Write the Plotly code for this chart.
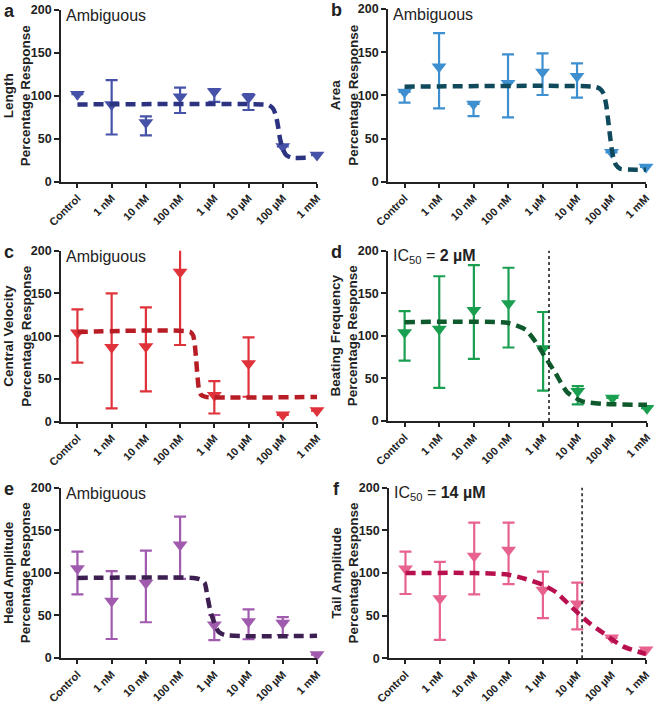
import plotly.graph_objects as go

W, H = 654, 706

categories = ["Control", "1 nM", "10 nM", "100 nM", "1 µM", "10 µM", "100 µM", "1 mM"]
y_ticks = [0, 50, 100, 150, 200]

# ---- panel a: Length ----
length_mean = [102, 90, 69, 99, 105, 98, 41, 31]
length_hi = [102, 118.4, 76, 109.5, 108, 102, 41, 31]
length_lo = [102, 55, 54, 80, 93, 83.5, 41, 31]
length_fit_x = [0, 5.45, 5.6, 5.72, 5.8, 5.86, 5.92, 6.0, 6.1, 6.25, 6.85]
length_fit_y = [90, 90, 89, 85, 77, 65, 50, 38, 31, 28, 28]

# ---- panel b: Area ----
area_mean = [104, 133, 90, 114, 127, 122, 34, 17]
area_hi = [104, 172, 90, 147.5, 148.6, 137, 34, 17]
area_lo = [91.5, 85, 76, 74.5, 100.4, 97.3, 34, 17]
area_fit_x = [0, 5.5, 5.65, 5.77, 5.85, 5.9, 5.96, 6.03, 6.12, 6.25, 7.0]
area_fit_y = [110, 110, 108, 102, 88, 72, 52, 32, 20, 15, 14]

# ---- panel c: Central Velocity ----
velocity_mean = [104, 87, 88, 175, 31, 68, 8, 13]
velocity_hi = [131.4, 150, 133.7, 257, 47.4, 98.6, 8, 13]
velocity_lo = [69, 15.6, 35.5, 89.7, 9.6, 29.2, 8, 13]
velocity_fit_x = [0, 3.3, 3.38, 3.43, 3.47, 3.51, 3.55, 3.62, 3.75, 7.0]
velocity_fit_y = [105, 105, 101, 90, 72, 52, 38, 31, 29, 29]

# ---- panel d: Beating Frequency ----
beat_mean = [104, 108, 130, 138, 85, 35, 27, 15]
beat_hi = [129, 170, 183, 180, 128, 41, 27, 15]
beat_lo = [71, 39, 73, 86.3, 35.6, 19.6, 27, 15]
beat_fit_x = [0, 3.0, 3.5, 3.8, 4.06, 4.36, 4.69, 5.13, 5.8, 7.0]
beat_fit_y = [116, 115, 107, 92, 75, 56, 34, 23, 20, 19]
beat_ic50_pos = 4.17

# ---- panel e: Head Amplitude ----
head_mean = [105, 67, 88, 133, 39, 43, 41, 4]
head_hi = [125, 102, 126, 166, 50.5, 57, 48, 4]
head_lo = [74.8, 22.3, 42, 93, 21, 22, 27, 4]
head_fit_x = [0, 3.4, 3.6, 3.72, 3.8, 3.87, 3.94, 4.02, 4.12, 4.3, 7.0]
head_fit_y = [94, 94, 92, 88, 72, 58, 48, 39, 31, 27, 26]

# ---- panel f: Tail Amplitude ----
tail_mean = [105, 70, 120, 127, 80, 64, 24, 10]
tail_hi = [125, 113, 159, 159, 101.5, 88.7, 24, 10]
tail_lo = [75.4, 21.5, 75, 87, 47, 34, 24, 10]
tail_fit_x = [0, 2, 3, 3.5, 4.0, 4.4, 4.86, 5.36, 5.74, 6.33, 7.0]
tail_fit_y = [100, 100, 98, 93, 86, 77, 59, 41, 30, 14, 5]
tail_ic50_pos = 5.14

panels = [
    dict(letter="a", name="Length", mean=length_mean, hi=length_hi, lo=length_lo,
         fx=length_fit_x, fy=length_fit_y, mc="#4652A8", lc="#2C3380",
         label="Ambiguous", ic50=None, dom=(61, 317, 10, 181.7)),
    dict(letter="b", name="Area", mean=area_mean, hi=area_hi, lo=area_lo,
         fx=area_fit_x, fy=area_fit_y, mc="#3D8FD0", lc="#0E4A5C",
         label="Ambiguous", ic50=None, dom=(388, 646, 9, 181.7)),
    dict(letter="c", name="Central Velocity", mean=velocity_mean, hi=velocity_hi, lo=velocity_lo,
         fx=velocity_fit_x, fy=velocity_fit_y, mc="#E0323A", lc="#B81C25",
         label="Ambiguous", ic50=None, dom=(61, 317, 250.7, 421.7)),
    dict(letter="d", name="Beating Frequency", mean=beat_mean, hi=beat_hi, lo=beat_lo,
         fx=beat_fit_x, fy=beat_fit_y, mc="#1A9E50", lc="#0E5A2C",
         label="IC<sub>50</sub> = <b>2 µM</b>", ic50=beat_ic50_pos, dom=(388, 647, 250.7, 421)),
    dict(letter="e", name="Head Amplitude", mean=head_mean, hi=head_hi, lo=head_lo,
         fx=head_fit_x, fy=head_fit_y, mc="#A05BAE", lc="#3D1F52",
         label="Ambiguous", ic50=None, dom=(61, 317, 487.7, 658)),
    dict(letter="f", name="Tail Amplitude", mean=tail_mean, hi=tail_hi, lo=tail_lo,
         fx=tail_fit_x, fy=tail_fit_y, mc="#E8628F", lc="#B8104F",
         label="IC<sub>50</sub> = <b>14 µM</b>", ic50=tail_ic50_pos, dom=(389, 646, 487.7, 658.3)),
]

FONT = "Liberation Sans, Arial, Helvetica, sans-serif"
fig = go.Figure()
layout = dict(width=W, height=H, margin=dict(l=0, r=0, t=0, b=0, autoexpand=False),
              paper_bgcolor="white", plot_bgcolor="white", showlegend=False,
              font=dict(family=FONT, color="#222"))
annotations = []
shapes = []
xs = list(range(len(categories)))

for i, p in enumerate(panels, start=1):
    sfx = "" if i == 1 else str(i)
    xa, ya = "x" + sfx, "y" + sfx
    l, r, t, b = p["dom"]
    plus = [(h - m) if h > m else None for h, m in zip(p["hi"], p["mean"])]
    minus = [(m - lo) if m > lo else None for lo, m in zip(p["lo"], p["mean"])]
    fig.add_trace(go.Scatter(
        x=xs, y=p["mean"], mode="markers", xaxis=xa, yaxis=ya,
        marker=dict(size=1, color="rgba(0,0,0,0)"), cliponaxis=True, hoverinfo="skip",
        error_y=dict(type="data", symmetric=False, array=plus, arrayminus=minus,
                     color=p["mc"], thickness=2.2, width=6)))
    fig.add_trace(go.Scatter(
        x=xs, y=p["mean"], mode="markers", xaxis=xa, yaxis=ya, cliponaxis=False,
        marker=dict(symbol="triangle-down", size=13, color=p["mc"], line=dict(width=0))))
    fig.add_trace(go.Scatter(
        x=p["fx"], y=p["fy"], mode="lines", xaxis=xa, yaxis=ya,
        line=dict(color=p["lc"], width=4.5, dash="10px,6px", shape="spline", smoothing=0.6)))

    layout["xaxis" + sfx] = dict(
        domain=[l / W, r / W], anchor=ya, range=[-0.48, 7], tickvals=xs, ticktext=categories,
        tickangle=-45, showline=True, linecolor="#222", linewidth=1.6, ticks="outside",
        ticklen=4, tickwidth=1.5, tickcolor="#222", showgrid=False, zeroline=False,
        automargin=False,
        tickfont=dict(size=11, weight="bold", family=FONT, color="#222"))
    layout["yaxis" + sfx] = dict(
        domain=[1 - b / H, 1 - t / H], anchor=xa, range=[0, 200], tickvals=y_ticks,
        showline=True, linecolor="#222", linewidth=1.6, ticks="outside", ticklen=5,
        tickwidth=1.5, tickcolor="#222", showgrid=False, zeroline=False, automargin=False,
        tickfont=dict(size=12.5, weight="bold", family=FONT, color="#222"))

    off = 0 if l < 200 else 327
    annotations.append(dict(text="<b>%s</b>" % p["letter"], xref="paper", yref="paper",
                            x=(off + 9) / W, y=1 - (t + 1) / H, xanchor="center", yanchor="middle",
                            showarrow=False, font=dict(size=18, family=FONT, color="#222")))
    annotations.append(dict(text=p["label"], xref="paper", yref="paper",
                            x=(l + 3) / W, y=1 - (t + 6) / H, xanchor="left", yanchor="middle",
                            showarrow=False, font=dict(size=16, family=FONT, color="#222")))
    annotations.append(dict(text="<b>%s<br>Percentage Response</b>" % p["name"],
                            xref="paper", yref="paper", textangle=-90,
                            x=(off + 17.5) / W, y=1 - ((t + b) / 2) / H,
                            xanchor="center", yanchor="middle", showarrow=False,
                            font=dict(size=13.5, family=FONT, color="#222")))
    if p["ic50"] is not None:
        shapes.append(dict(type="line", xref=xa, yref=ya + " domain", x0=p["ic50"], x1=p["ic50"],
                           y0=0, y1=1, line=dict(color="#222", width=1.6, dash="dot")))

layout["annotations"] = annotations
layout["shapes"] = shapes
fig.update_layout(**layout)
fig.write_html("out.html", config={"displayModeBar": False},
               post_script="document.body.style.margin='0';document.body.style.padding='0';")
